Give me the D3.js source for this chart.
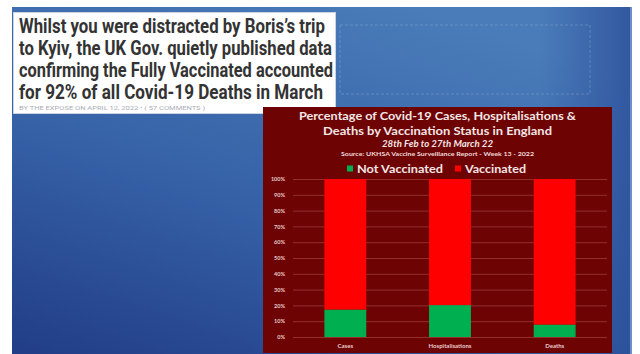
<!DOCTYPE html>
<html><head><meta charset="utf-8">
<script src="https://cdn.jsdelivr.net/npm/d3@7"></script>
<style>
html,body{margin:0;padding:0;background:#fff;}
svg{display:block;}
</style></head>
<body>
<svg id="c" width="640" height="354"></svg>
<script>
// ---- data ----
const categories = ["Cases", "Hospitalisations", "Deaths"];
const notVaccinated = [17.4, 20.2, 7.9];
const vaccinated = [82.6, 79.8, 92.1];
const seriesNames = ["Not Vaccinated", "Vaccinated"];
const seriesColors = ["#00b050", "#ff0000"];
const yTicks = [0, 10, 20, 30, 40, 50, 60, 70, 80, 90, 100];
const headlineLines = [
  "Whilst you were distracted by Boris\u2019s trip",
  "to Kyiv, the UK Gov. quietly published data",
  "confirming the Fully Vaccinated accounted",
  "for 92% of all Covid-19 Deaths in March"
];
const byline = "BY THE EXPOSE ON APRIL 12, 2022 \u2022 ( 57 COMMENTS )";
const chartTitle = [
  "Percentage of Covid-19 Cases, Hospitalisations &",
  "Deaths by Vaccination Status in England"
];
const chartSubtitle = "28th Feb to 27th March 22";
const chartSource = "Source: UKHSA Vaccine Surveillance Report - Week 13 - 2022";

const svg = d3.select("#c");
const defs = svg.append("defs");

// slide background gradient
const g1 = defs.append("linearGradient").attr("id", "bg")
  .attr("x1", "0.65").attr("y1", "0").attr("x2", "0.05").attr("y2", "1");
g1.append("stop").attr("offset", "0").attr("stop-color", "#4a7cb9");
g1.append("stop").attr("offset", "0.55").attr("stop-color", "#3560a6");
g1.append("stop").attr("offset", "1").attr("stop-color", "#223e88");

const g2 = defs.append("linearGradient").attr("id", "edge")
  .attr("x1", "0").attr("y1", "0").attr("x2", "1").attr("y2", "0");
g2.append("stop").attr("offset", "0").attr("stop-color", "#2c4f9a").attr("stop-opacity", 0);
g2.append("stop").attr("offset", "1").attr("stop-color", "#2c4f9a").attr("stop-opacity", 0.8);

svg.append("rect").attr("x", 12).attr("y", 7).attr("width", 619).attr("height", 347).attr("fill", "url(#bg)");
svg.append("rect").attr("x", 540).attr("y", 7).attr("width", 91).attr("height", 347).attr("fill", "url(#edge)");
svg.append("rect").attr("x", 630).attr("y", 7).attr("width", 2).attr("height", 347).attr("fill", "#6d8ec6");

// dashed placeholder
svg.append("rect").attr("x", 340).attr("y", 25).attr("width", 250).attr("height", 69)
  .attr("fill", "none").attr("stroke", "#9db6dc").attr("stroke-width", 0.7)
  .attr("stroke-dasharray", "3,2").attr("opacity", 0.5);

// white headline box
svg.append("rect").attr("x", 13.5).attr("y", 12.5).attr("width", 322).attr("height", 101)
  .attr("fill", "#ffffff").attr("stroke", "#c9d3e3").attr("stroke-width", 1);

const headWidths = [306, 313, 314, 304];
const headBase = [33, 55, 77, 99];
svg.append("g").selectAll("text").data(headlineLines).join("text")
  .attr("x", 19).attr("y", (d, i) => headBase[i])
  .attr("textLength", (d, i) => headWidths[i]).attr("lengthAdjust", "spacingAndGlyphs")
  .attr("font-family", "Roboto, 'Liberation Sans Narrow', sans-serif")
  .attr("font-weight", 700).attr("font-size", 21).attr("fill", "#333333")
  .text(d => d);

svg.append("text").attr("x", 19).attr("y", 109.5)
  .attr("textLength", 186).attr("lengthAdjust", "spacingAndGlyphs")
  .attr("font-family", "Roboto, sans-serif").attr("font-size", 5).attr("fill", "#a9aeb6")
  .text(byline);

// chart panel
const panel = {x: 263, y: 107, w: 349, h: 246};
svg.append("rect").attr("x", panel.x).attr("y", panel.y).attr("width", panel.w).attr("height", panel.h)
  .attr("fill", "#6e0303");

const cx = panel.x + panel.w / 2;
const titleW = [277, 229];
svg.append("g").selectAll("text").data(chartTitle).join("text")
  .attr("x", cx).attr("y", (d, i) => 120 + i * 15).attr("text-anchor", "middle")
  .attr("textLength", (d, i) => titleW[i]).attr("lengthAdjust", "spacingAndGlyphs")
  .attr("font-family", "Lato, sans-serif").attr("font-weight", 700).attr("font-size", 12)
  .attr("fill", "#f3e6e6").text(d => d);
svg.append("text").attr("x", cx).attr("y", 147).attr("text-anchor", "middle")
  .attr("textLength", 111).attr("lengthAdjust", "spacingAndGlyphs")
  .attr("font-family", "Lato, sans-serif").attr("font-weight", 700).attr("font-style", "italic")
  .attr("font-size", 8.5).attr("fill", "#f3e6e6").text(chartSubtitle);
svg.append("text").attr("x", cx).attr("y", 156).attr("text-anchor", "middle")
  .attr("textLength", 193).attr("lengthAdjust", "spacingAndGlyphs")
  .attr("font-family", "Lato, sans-serif").attr("font-weight", 700)
  .attr("font-size", 5).attr("fill", "#eedada").text(chartSource);

// legend
const legX = [347, 455];
const legTxtW = [86, 61];
const leg = svg.append("g").selectAll("g").data(seriesNames).join("g");
leg.append("rect").attr("x", (d, i) => legX[i]).attr("y", 165.5).attr("width", 6).attr("height", 6)
  .attr("fill", (d, i) => seriesColors[i]);
leg.append("text").attr("x", (d, i) => legX[i] + 10).attr("y", 172.5)
  .attr("textLength", (d, i) => legTxtW[i]).attr("lengthAdjust", "spacingAndGlyphs")
  .attr("font-family", "Lato, sans-serif").attr("font-weight", 700).attr("font-size", 12)
  .attr("fill", "#f3e6e6").text(d => d);

// scales
const plot = {left: 293, right: 607, top: 179, bottom: 337};
const x = d3.scaleBand().domain(categories).range([plot.left, plot.right]).paddingInner(0.6).paddingOuter(0.3);
const y = d3.scaleLinear().domain([0, 100]).range([plot.bottom, plot.top]);

// gridlines + y labels
const yAxis = d3.axisLeft(y).tickValues(yTicks).tickFormat(d => d + "%")
  .tickSizeInner(-(plot.right - plot.left)).tickSizeOuter(0).tickPadding(8);
const ya = svg.append("g").attr("transform", `translate(${plot.left},0)`).call(yAxis);
ya.select(".domain").remove();
ya.selectAll(".tick line").attr("stroke", "#9a3a3a").attr("stroke-width", 0.8);
ya.selectAll(".tick text").attr("font-family", "Lato, sans-serif").attr("font-weight", 700)
  .attr("font-size", 5.5).attr("fill", "#e8cccc");

// stacked bars
const rows = categories.map((c, i) => ({cat: c, "Not Vaccinated": notVaccinated[i], "Vaccinated": vaccinated[i]}));
const stacked = d3.stack().keys(seriesNames)(rows);
svg.append("g").selectAll("g").data(stacked).join("g")
  .attr("fill", (d, i) => seriesColors[i])
  .selectAll("rect").data(d => d).join("rect")
  .attr("x", d => x(d.data.cat)).attr("width", x.bandwidth())
  .attr("y", d => y(d[1])).attr("height", d => y(d[0]) - y(d[1]));

// x labels
const xAxis = d3.axisBottom(x).tickSize(0).tickPadding(7);
const xa = svg.append("g").attr("transform", `translate(0,${plot.bottom})`).call(xAxis);
xa.select(".domain").remove();
xa.selectAll(".tick text").attr("font-family", "Lato, sans-serif").attr("font-weight", 700)
  .attr("font-size", 6).attr("fill", "#e8cccc");
</script>
</body></html>
